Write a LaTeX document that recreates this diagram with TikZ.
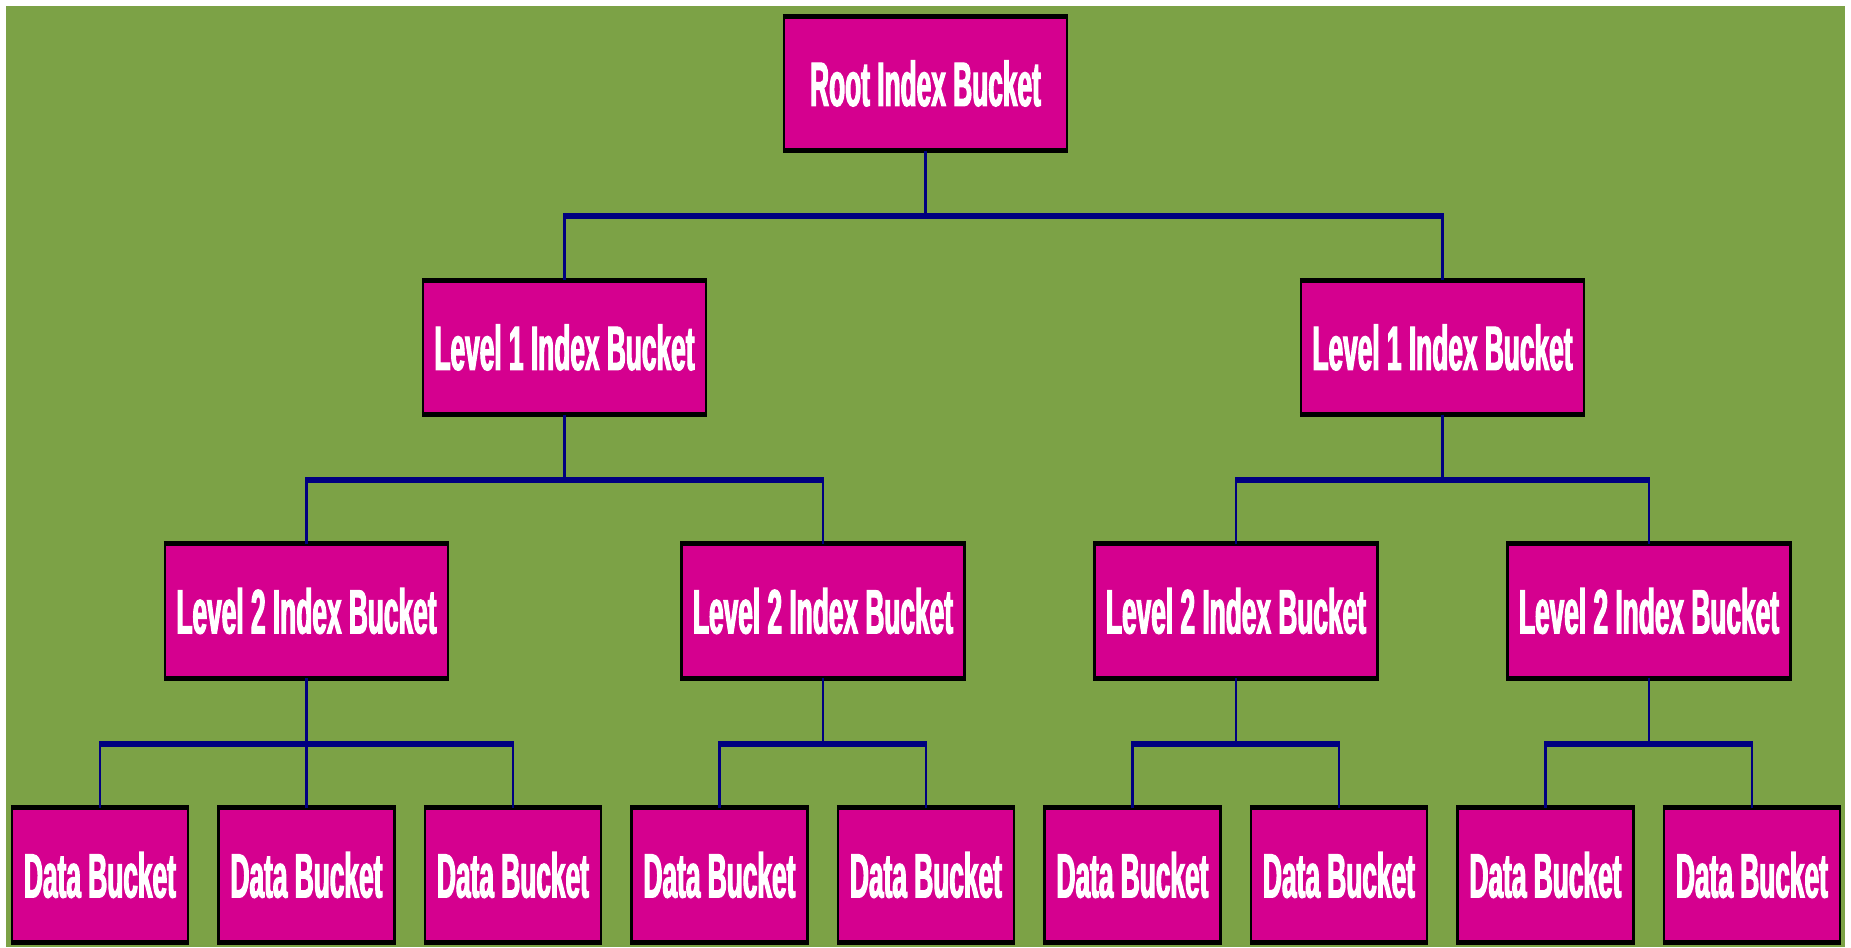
\documentclass[tikz,border=0pt]{standalone}
\usepackage{fontspec}
\newfontfamily\bucketfont{Liberation Sans}[FakeStretch=0.42, FakeBold=1.8]
\definecolor{bggreen}{HTML}{7CA246}
\definecolor{bucketpink}{HTML}{D5008F}
\definecolor{wirenavy}{HTML}{000080}
\tikzset{
  lid/.style={draw=black, line width=1.4pt},
  bucket/.style={draw=black, fill=bucketpink, line width=0.65pt, text=white,
    inner sep=0pt, minimum height=1.32cm,
    font=\bucketfont\bfseries\fontsize{17.8}{20}\selectfont,
    append after command={(\tikzlastnode.north west) edge[lid] (\tikzlastnode.north east)
      (\tikzlastnode.south west) edge[lid] (\tikzlastnode.south east)}},
  index/.style={bucket, minimum width=2.827cm},
  data/.style={bucket, minimum width=1.757cm},
  drop/.style={draw=wirenavy, line width=0.6pt},
  bus/.style={draw=wirenavy, line width=1.5pt}
}
\begin{document}
\begin{tikzpicture}[x=0.01cm, y=-0.01cm]
  \fill[white] (0,0) rectangle (1851,947);
  \useasboundingbox (0,0) rectangle (1851,947);
  \fill[bggreen] (6,6) rectangle (1845,947);

  \node[index] (root) at (925.5, 83.5) {Root Index Bucket};
  \node[index] (l1a) at (564.5, 347.5) {Level 1 Index Bucket};
  \node[index] (l1b) at (1442.5, 347.5) {Level 1 Index Bucket};
  \node[index] (l2a) at (306.5, 611) {Level 2 Index Bucket};
  \node[index] (l2b) at (823, 611) {Level 2 Index Bucket};
  \node[index] (l2c) at (1236, 611) {Level 2 Index Bucket};
  \node[index] (l2d) at (1649, 611) {Level 2 Index Bucket};
  \foreach \i in {1,...,9}
    \node[data] (d\i) at ({100+206.5*(\i-1)}, 875) {Data Bucket};

  % wires: thin drops, then the thicker bars over them
  \foreach \p/\c in {root/l1a, root/l1b, l1a/l2a, l1a/l2b, l1b/l2c, l1b/l2d,
      l2a/d1, l2a/d2, l2a/d3, l2b/d4, l2b/d5, l2c/d6, l2c/d7, l2d/d8, l2d/d9}
    \draw[drop] (\p.south) -- ++(0,63.5) -| (\c.north);
  \foreach \f/\l in {l1a/l1b, l2a/l2b, l2c/l2d, d1/d3, d4/d5, d6/d7, d8/d9}
    \draw[bus] (\f.north) ++(0,-63.5) coordinate (bar) -- (bar -| \l.north);
\end{tikzpicture}
\end{document}
